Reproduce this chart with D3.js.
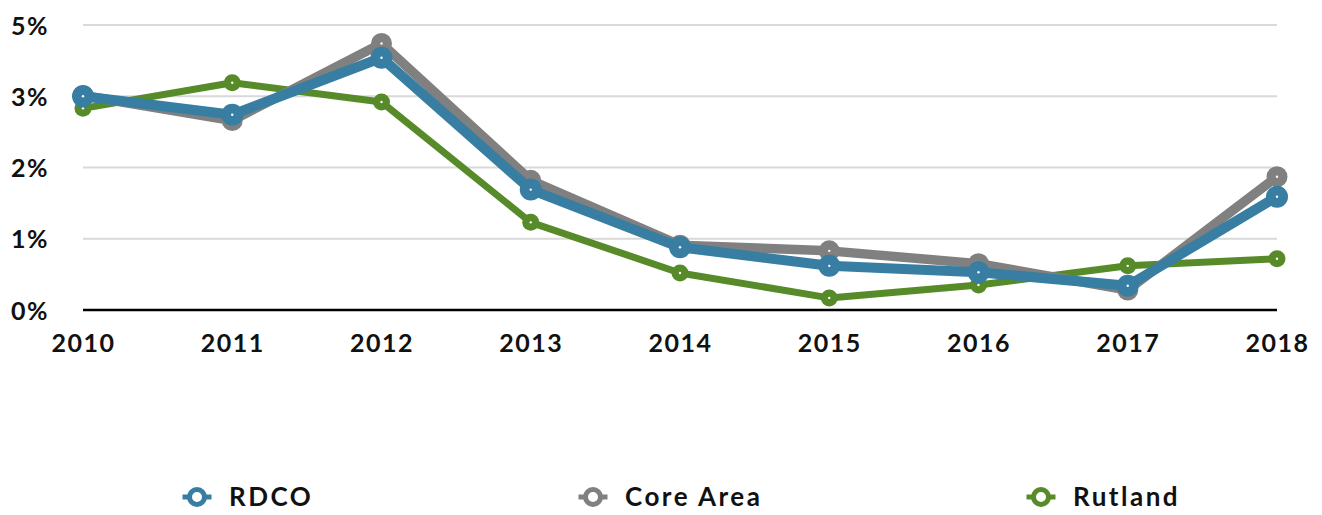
<!DOCTYPE html>
<html>
<head>
<meta charset="utf-8">
<script src="https://cdn.jsdelivr.net/npm/d3@7"></script>
<style>
  body { margin: 0; background: #fff; }
  svg text { font-family: Lato, "Noto Sans", sans-serif; font-weight: 700; fill: #111; }
</style>
</head>
<body>
<svg id="chart" width="1322" height="515"></svg>
<script>
// years on the x axis
var years = [2010, 2011, 2012, 2013, 2014, 2015, 2016, 2017, 2018];

// series values (in gridline units)
var rdco     = [3.00, 2.74, 3.54, 1.69, 0.88, 0.62, 0.53, 0.34, 1.59];
var coreArea = [3.01, 2.66, 3.74, 1.82, 0.91, 0.83, 0.65, 0.28, 1.87];
var rutland  = [2.83, 3.19, 2.92, 1.23, 0.52, 0.17, 0.35, 0.62, 0.72];

var seriesNames  = ["RDCO", "Core Area", "Rutland"];
var seriesColors = ["#377ea2", "#808080", "#578a28"];

// y gridlines and what the original labels them as
var yTicks      = [0, 1, 2, 3, 4];
var yTickLabels = ["0%", "1%", "2%", "3%", "5%"];

var svg = d3.select("#chart");
var margin = {left: 83, right: 45, top: 25, bottom: 205};
var width = 1322, height = 515;

var x = d3.scalePoint()
	.domain(years)
	.range([margin.left, width - margin.right]);

var y = d3.scaleLinear()
	.domain([0, 4])
	.range([height - margin.bottom, margin.top]);

// gridlines
svg.append("g")
	.selectAll("line")
	.data(yTicks.filter(function(d){ return d > 0; }))
	.enter()
	.append("line")
	.attr("x1", x(years[0]))
	.attr("x2", x(years[years.length - 1]))
	.attr("y1", function(d){ return y(d); })
	.attr("y2", function(d){ return y(d); })
	.attr("stroke", "#d9d9d9")
	.attr("stroke-width", 2);

// zero line
svg.append("line")
	.attr("x1", x(years[0]))
	.attr("x2", x(years[years.length - 1]))
	.attr("y1", y(0))
	.attr("y2", y(0))
	.attr("stroke", "#000")
	.attr("stroke-width", 2.5);

// y labels
var yAxis = d3.axisLeft(y)
	.tickValues(yTicks)
	.tickSize(0)
	.tickPadding(0)
	.tickFormat(function(d, i){ return yTickLabels[i]; });

var yg = svg.append("g")
	.attr("transform", "translate(49,0)")
	.call(yAxis);
yg.select(".domain").remove();
yg.selectAll("text")
	.style("font-size", "25px")
	.style("letter-spacing", "1.5px")
	.attr("dy", "0.36em");

// x labels
var xAxis = d3.axisBottom(x).tickSize(0).tickPadding(0);
var xg = svg.append("g")
	.attr("transform", "translate(0," + 352 + ")")
	.call(xAxis);
xg.select(".domain").remove();
xg.selectAll("text")
	.style("font-size", "25px")
	.style("letter-spacing", "1.5px")
	.attr("dy", "0");

// lines: Rutland at the bottom, RDCO on top
var allSeries = [rdco, coreArea, rutland];
var lineWidths = [10, 9.5, 7];
var markerR = [11, 10.5, 8.5];
var drawOrder = [2, 1, 0];

var line = d3.line()
	.x(function(d, i){ return x(years[i]); })
	.y(function(d){ return y(d); });

drawOrder.forEach(function(s) {
	var g = svg.append("g");
	g.append("path")
		.datum(allSeries[s])
		.attr("d", line)
		.attr("fill", "none")
		.attr("stroke", seriesColors[s])
		.attr("stroke-width", lineWidths[s])
		.attr("stroke-linejoin", "round");
	g.selectAll("circle.mk")
		.data(allSeries[s])
		.enter()
		.append("circle")
		.attr("class", "mk")
		.attr("cx", function(d, i){ return x(years[i]); })
		.attr("cy", function(d){ return y(d); })
		.attr("r", markerR[s])
		.attr("fill", seriesColors[s]);
	// tiny white centre dot
	g.selectAll("circle.dot")
		.data(allSeries[s])
		.enter()
		.append("circle")
		.attr("class", "dot")
		.attr("cx", function(d, i){ return x(years[i]); })
		.attr("cy", function(d){ return y(d); })
		.attr("r", 1.2)
		.attr("fill", "#fff");
});

// legend
var legendX = [197, 593, 1041];
var legendY = 497;
var lg = svg.append("g").selectAll("g")
	.data(seriesNames)
	.enter()
	.append("g")
	.attr("transform", function(d, i){ return "translate(" + legendX[i] + "," + legendY + ")"; });

lg.append("line")
	.attr("x1", -14.5).attr("x2", 14.5)
	.attr("stroke", function(d, i){ return seriesColors[i]; })
	.attr("stroke-width", 5);
lg.append("circle")
	.attr("r", 7.5)
	.attr("fill", "#fff")
	.attr("stroke", function(d, i){ return seriesColors[i]; })
	.attr("stroke-width", 5);
lg.append("text")
	.attr("x", 32)
	.attr("dy", "0.36em")
	.style("font-size", "26px")
	.style("letter-spacing", "2.5px")
	.text(function(d){ return d; });
</script>
</body>
</html>
